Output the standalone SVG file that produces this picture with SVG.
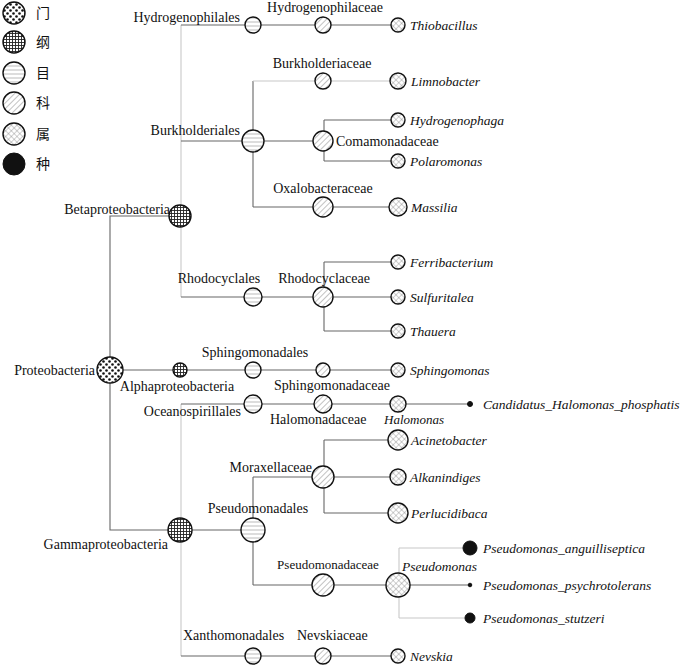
<svg xmlns="http://www.w3.org/2000/svg" width="700" height="671" viewBox="0 0 700 671">
<style>
text{font-family:"Liberation Serif","Times New Roman","Noto Sans CJK SC",serif;font-size:14px;fill:#111}
.i{font-style:italic;font-size:13.5px}
.s{font-size:13px}
.n{stroke:#111;stroke-width:1.4}
.p{fill:url(#pDot)}
.c{fill:url(#pGrid)}
.o{fill:url(#pOrd)}
.f{fill:url(#pFam)}
.g{fill:url(#pGen)}
.sp{fill:#111;stroke:#111}
#links path{fill:none;stroke:#666;stroke-width:1.1}
#links path.l{stroke:#c8c8c8}
</style>
<defs>
<pattern id="pDot" patternUnits="userSpaceOnUse" width="6" height="6">
<rect width="6" height="6" fill="#fff"/>
<circle cx="1.5" cy="1.5" r="1.3" fill="#111"/>
<circle cx="4.5" cy="4.5" r="1.3" fill="#111"/>
</pattern>
<pattern id="pGrid" patternUnits="userSpaceOnUse" width="3" height="3">
<rect width="3" height="3" fill="#fff"/>
<path d="M0 0.5H3M0.5 0V3" stroke="#222" stroke-width="0.9"/>
</pattern>
<pattern id="pOrd" patternUnits="userSpaceOnUse" width="40" height="4">
<rect width="40" height="4" fill="#fff"/>
<path d="M0 2H40" stroke="#aaa" stroke-width="0.8"/>
</pattern>
<pattern id="pFam" patternUnits="userSpaceOnUse" width="4" height="4" patternTransform="rotate(45)">
<rect width="4" height="4" fill="#fff"/>
<path d="M0 0V4" stroke="#777" stroke-width="0.9"/>
</pattern>
<pattern id="pGen" patternUnits="userSpaceOnUse" width="4" height="4" patternTransform="rotate(45)">
<rect width="4" height="4" fill="#fff"/>
<path d="M0 0V4M0 0H4" stroke="#777" stroke-width="0.7"/>
</pattern>
</defs>
<rect width="700" height="671" fill="#fff"/>

<g id="legend">
<circle class="n p" cx="14" cy="13" r="11"/><text x="36" y="18">门</text>
<circle class="n c" cx="14" cy="42" r="11"/><text x="36" y="47">纲</text>
<circle class="n o" cx="14" cy="73" r="11"/><text x="36" y="78">目</text>
<circle class="n f" cx="14" cy="103" r="11"/><text x="36" y="108">科</text>
<circle class="n g" cx="14" cy="134" r="11"/><text x="36" y="139">属</text>
<circle class="sp" cx="14" cy="164" r="11"/><text x="36" y="169">种</text>
</g>

<g id="links">
<path d="M110 370V216H180"/>
<path d="M110 370V530H180"/>
<path d="M110 370H253H323H398"/>
<path class="l" d="M181 25V297"/>
<path class="l" d="M181 404V656"/>
<path d="M181 25H398"/>
<path d="M181 141H323"/>
<path d="M253 81V207"/>
<path class="l" d="M253 81H398"/>
<path d="M253 207H398"/>
<path d="M324 120V161"/>
<path d="M324 120H398M324 161H398"/>
<path d="M181 297H323"/>
<path d="M324 262V331"/>
<path d="M324 262H398M323 297H398M324 331H398"/>
<path d="M181 404H470"/>
<path d="M180 530H253"/>
<path d="M253 477V585"/>
<path d="M253 477H323"/>
<path d="M324 440V513"/>
<path d="M324 440H398M323 477H398M324 513H398"/>
<path d="M253 585H398"/>
<path class="l" d="M399 548V618"/>
<path class="l" d="M399 548H470M399 618H470"/>
<path d="M398 585H470"/>
<path d="M181 656H398"/>
</g>

<g id="Proteobacteria"><circle class="n p" cx="110" cy="370" r="13"/><text x="95" y="375" text-anchor="end">Proteobacteria</text></g>
<g id="Betaproteobacteria"><circle class="n c" cx="180" cy="216" r="11"/><text x="170" y="214" text-anchor="end">Betaproteobacteria</text></g>
<g id="Alphaproteobacteria"><circle class="n c" cx="180" cy="370" r="7"/><text x="177" y="391" text-anchor="middle">Alphaproteobacteria</text></g>
<g id="Gammaproteobacteria"><circle class="n c" cx="180" cy="530" r="12"/><text x="168" y="549" text-anchor="end">Gammaproteobacteria</text></g>

<g id="Hydrogenophilales"><circle class="n o" cx="253" cy="25" r="8"/><text x="240" y="22" text-anchor="end">Hydrogenophilales</text></g>
<g id="Hydrogenophilaceae"><circle class="n f" cx="323" cy="25" r="8"/><text x="325" y="12" text-anchor="middle">Hydrogenophilaceae</text></g>
<g id="Thiobacillus"><circle class="n g" cx="398" cy="25" r="7"/><text class="i" x="410" y="30">Thiobacillus</text></g>

<g id="Burkholderiales"><circle class="n o" cx="253" cy="141" r="11"/><text x="240" y="135" text-anchor="end">Burkholderiales</text></g>
<g id="Burkholderiaceae"><circle class="n f" cx="323" cy="81" r="8"/><text x="322" y="68" text-anchor="middle">Burkholderiaceae</text></g>
<g id="Limnobacter"><circle class="n g" cx="398" cy="81" r="8"/><text class="i" x="411" y="86">Limnobacter</text></g>
<g id="Comamonadaceae"><circle class="n f" cx="323" cy="141" r="10"/><text x="336" y="146">Comamonadaceae</text></g>
<g id="Hydrogenophaga"><circle class="n g" cx="398" cy="120" r="7"/><text class="i" x="410" y="125">Hydrogenophaga</text></g>
<g id="Polaromonas"><circle class="n g" cx="398" cy="161" r="7"/><text class="i" x="410" y="166">Polaromonas</text></g>
<g id="Oxalobacteraceae"><circle class="n f" cx="323" cy="207" r="10"/><text x="323" y="193" text-anchor="middle">Oxalobacteraceae</text></g>
<g id="Massilia"><circle class="n g" cx="398" cy="207" r="9"/><text class="i" x="411" y="212">Massilia</text></g>

<g id="Rhodocyclales"><circle class="n o" cx="253" cy="297" r="9"/><text x="219" y="283" text-anchor="middle">Rhodocyclales</text></g>
<g id="Rhodocyclaceae"><circle class="n f" cx="323" cy="297" r="10"/><text x="324" y="283" text-anchor="middle">Rhodocyclaceae</text></g>
<g id="Ferribacterium"><circle class="n g" cx="398" cy="262" r="7"/><text class="i" x="410" y="267">Ferribacterium</text></g>
<g id="Sulfuritalea"><circle class="n g" cx="398" cy="297" r="7"/><text class="i" x="410" y="302">Sulfuritalea</text></g>
<g id="Thauera"><circle class="n g" cx="398" cy="331" r="7"/><text class="i" x="410" y="336">Thauera</text></g>

<g id="Sphingomonadales"><circle class="n o" cx="253" cy="370" r="8"/><text x="255" y="357" text-anchor="middle">Sphingomonadales</text></g>
<g id="Sphingomonadaceae"><circle class="n f" cx="323" cy="370" r="7"/><text x="332" y="390" text-anchor="middle">Sphingomonadaceae</text></g>
<g id="Sphingomonas"><circle class="n g" cx="398" cy="370" r="7"/><text class="i" x="410" y="375">Sphingomonas</text></g>

<g id="Oceanospirillales"><circle class="n o" cx="253" cy="404" r="9"/><text x="241" y="416" text-anchor="end">Oceanospirillales</text></g>
<g id="Halomonadaceae"><circle class="n f" cx="323" cy="404" r="9"/><text x="270" y="424">Halomonadaceae</text></g>
<g id="Halomonas"><circle class="n g" cx="398" cy="404" r="8"/><text class="i" x="384" y="424" style="font-size:13px">Halomonas</text></g>
<g id="Candidatus_Halomonas_phosphatis"><circle class="sp" cx="470" cy="404" r="2.5"/><text class="i" x="483" y="409">Candidatus_Halomonas_phosphatis</text></g>

<g id="Pseudomonadales"><circle class="n o" cx="253" cy="530" r="12"/><text x="258" y="513" text-anchor="middle">Pseudomonadales</text></g>
<g id="Moraxellaceae"><circle class="n f" cx="323" cy="477" r="11"/><text x="312" y="472" text-anchor="end">Moraxellaceae</text></g>
<g id="Acinetobacter"><circle class="n g" cx="398" cy="440" r="10"/><text class="i" x="411" y="445">Acinetobacter</text></g>
<g id="Alkanindiges"><circle class="n g" cx="398" cy="477" r="8"/><text class="i" x="410" y="482">Alkanindiges</text></g>
<g id="Perlucidibaca"><circle class="n g" cx="398" cy="513" r="10"/><text class="i" x="411" y="518">Perlucidibaca</text></g>
<g id="Pseudomonadaceae"><circle class="n f" cx="323" cy="585" r="11"/><text class="s" x="328" y="569" text-anchor="middle">Pseudomonadaceae</text></g>
<g id="Pseudomonas"><circle class="n g" cx="398" cy="585" r="12"/><text class="i" x="402" y="571">Pseudomonas</text></g>
<g id="Pseudomonas_anguilliseptica"><circle class="sp" cx="470" cy="548" r="7"/><text class="i" x="483" y="553">Pseudomonas_anguilliseptica</text></g>
<g id="Pseudomonas_psychrotolerans"><circle class="sp" cx="470" cy="585" r="1.8"/><text class="i" x="483" y="590">Pseudomonas_psychrotolerans</text></g>
<g id="Pseudomonas_stutzeri"><circle class="sp" cx="470" cy="618" r="5"/><text class="i" x="483" y="623">Pseudomonas_stutzeri</text></g>

<g id="Xanthomonadales"><circle class="n o" cx="253" cy="656" r="8"/><text x="183" y="640">Xanthomonadales</text></g>
<g id="Nevskiaceae"><circle class="n f" cx="323" cy="656" r="8"/><text x="297" y="640">Nevskiaceae</text></g>
<g id="Nevskia"><circle class="n g" cx="398" cy="656" r="7"/><text class="i" x="410" y="661">Nevskia</text></g>
</svg>
